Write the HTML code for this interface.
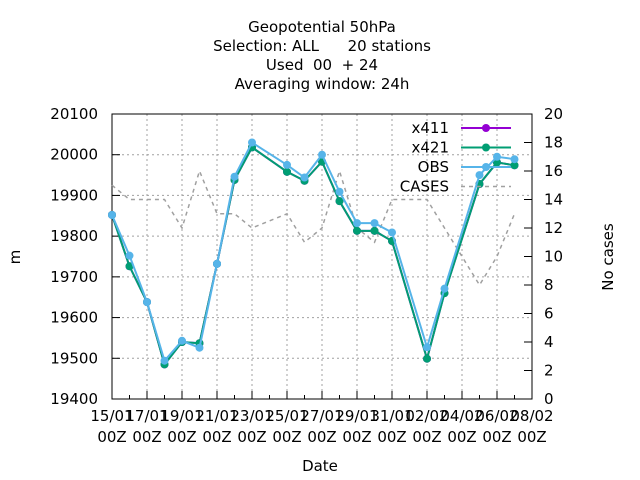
<!DOCTYPE html>
<html><head><meta charset="utf-8"><style>
body{margin:0;background:#fff;}
svg{display:block;font-family:"DejaVu Sans","Liberation Sans",sans-serif;}
text{white-space:pre;}
</style></head><body>
<svg id="chart" width="640" height="480" viewBox="0 0 640 480">
<g font-size="15" text-anchor="middle" fill="#000">
<text x="322" y="32">Geopotential 50hPa</text>
<text x="322" y="51" xml:space="preserve">Selection: ALL      20 stations</text>
<text x="322" y="70" xml:space="preserve">Used  00  + 24</text>
<text x="322" y="89">Averaging window: 24h</text>
</g>
<g id="grid"></g>
<g id="axes"></g>
<g id="series"></g>
<text x="20" y="257" font-size="15" text-anchor="middle" transform="rotate(-90 20 257)">m</text>
<text x="613" y="257" font-size="15" text-anchor="middle" transform="rotate(-90 613 257)">No cases</text>
<text x="320" y="471" font-size="15" text-anchor="middle">Date</text>
<g id="legend"></g>
</svg>
<script>
const xLabels = ["15/01","17/01","19/01","21/01","23/01","25/01","27/01","29/01","31/01","02/02","04/02","06/02","08/02"];
const yTicks = [19400,19500,19600,19700,19800,19900,20000,20100];
const y2Ticks = [0,2,4,6,8,10,12,14,16,18,20];
const days = [0,1,2,3,4,5,6,7,8,10,11,12,13,14,15,16,18,19,21,22,23];
const x411 = [19852,19726,19638,19485,19540,19537,19732,19938,20018,19958,19936,19983,19886,19813,19813,19788,19499,19660,19928,19981,19974];
const x421 = [19852,19726,19638,19485,19540,19537,19732,19938,20018,19958,19936,19983,19886,19813,19813,19788,19499,19660,19928,19981,19974];
const obs  = [19852,19752,19638,19494,19543,19526,19732,19946,20030,19975,19944,20000,19909,19832,19832,19809,19527,19671,19950,19995,19989];
const cases = [15,14,14,14,12,16,13,13,12,13,11,12,16,12,11,14,14,12,8,10,13];

const L=112,R=532,T=114,B=399;
const NS="http://www.w3.org/2000/svg";
const xS=d=>L+(R-L)*d/24;
const yS=v=>B-(B-T)*(v-19400)/700;
const y2S=v=>B-(B-T)*v/20;
function mk(tag,attrs,parent){const e=document.createElementNS(NS,tag);for(const k in attrs)e.setAttribute(k,attrs[k]);parent.appendChild(e);return e;}
const grid=document.getElementById('grid'),axes=document.getElementById('axes'),ser=document.getElementById('series'),leg=document.getElementById('legend');

yTicks.forEach(v=>{
  const y=yS(v);
  if(v>19400&&v<20100){const g=mk('line',{x1:L,x2:R,y1:y,y2:y,stroke:'#a0a0a0','stroke-dasharray':'2,3','stroke-width':1},grid);
  
  }
  mk('line',{x1:L,x2:L+8,y1:y,y2:y,stroke:'#000'},axes);
  const tx=mk('text',{x:L-14,y:y+5,'font-size':15,'text-anchor':'end'},axes);tx.textContent=v;
  
  
});
y2Ticks.forEach(v=>{
  const y=y2S(v);
  mk('line',{x1:R-8,x2:R,y1:y,y2:y,stroke:'#000'},axes);
  const tx=mk('text',{x:R+12,y:y+5,'font-size':15,'text-anchor':'start'},axes);tx.textContent=v;
  
  
});
for(let d=0;d<=24;d++){const x=xS(d);mk('line',{x1:x,x2:x,y1:B,y2:B-(d%2?4:8),stroke:'#000'},axes);}
xLabels.forEach((lab,i)=>{
  const x=xS(i*2);
  if(i>0&&i<12){const g=mk('line',{x1:x,x2:x,y1:T,y2:B,stroke:'#a0a0a0','stroke-dasharray':'2,3','stroke-width':1},grid);
  
  }
  const t=mk('text',{x:x,y:421,'font-size':15,'text-anchor':'middle'},axes);t.textContent=lab;
  
  
  const t2=mk('text',{x:x,y:442,'font-size':15,'text-anchor':'middle'},axes);t2.textContent='00Z';
  
  
});
mk('rect',{x:L,y:T,width:R-L,height:B-T,fill:'none',stroke:'#000','stroke-width':1},axes);

function series(vals,ys,color,name,dash,marker){
  const pts=vals.map((v,i)=>xS(days[i])+','+ys(v)).join(' ');
  const p=mk('polyline',{points:pts,fill:'none',stroke:color,'stroke-width':dash?1.5:2,'stroke-dasharray':dash?'4,4':'none'},ser);
  
  
  if(marker) vals.forEach((v,i)=>{
    const c=mk('circle',{cx:xS(days[i]),cy:ys(v),r:4,fill:color},ser);
    
    
  });
}
series(cases,y2S,'#a0a0a0','cases',true,false);
series(x411,yS,'#9400d3','x411',false,true);
series(x421,yS,'#009e73','x421',false,true);
series(obs,yS,'#56b4e9','obs',false,true);

[['x411','#9400d3',0],['x421','#009e73',0],['OBS','#56b4e9',0],['CASES','#a0a0a0',1]].forEach((e,i)=>{
  const y=128+i*19.5;
  const t=mk('text',{x:449,y:y+5,'font-size':15,'text-anchor':'end'},leg);t.textContent=e[0];
  
  
  mk('line',{x1:461,x2:511,y1:y,y2:y,stroke:e[1],'stroke-width':e[2]?1.5:2,'stroke-dasharray':e[2]?'4,4':'none'},leg);
  if(!e[2]) mk('circle',{cx:486,cy:y,r:4,fill:e[1]},leg);
});
</script>
</body></html>
